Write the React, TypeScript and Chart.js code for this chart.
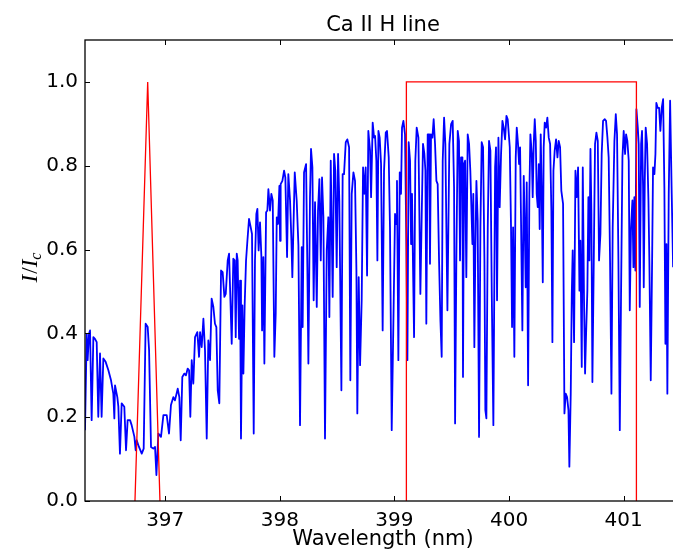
import React, { useEffect, useRef } from "react";
import { Chart, registerables } from "chart.js";

Chart.register(...registerables);

const titleText = "Ca II H line";
const xLabelText = "Wavelength (nm)";

const xTicks = [397, 398, 399, 400, 401];
const xTickLabels = ["397", "398", "399", "400", "401"];
const yTicks = [0, 0.2, 0.4, 0.6, 0.8, 1.0];
const yTickLabels = ["0.0", "0.2", "0.4", "0.6", "0.8", "1.0"];

const xMin = 396.3;
const xMax = 401.5;
const yMin = 0;
const yMax = 1.1;

// filter transmission (red)
const filterTriangleX = [396.736, 396.847, 396.954];
const filterTriangleY = [0, 1.0, 0];
const filterBoxX = [399.104, 399.104, 401.111, 401.111];
const filterBoxY = [0, 1.0, 1.0, 0];

// spectrum (blue)
const spectrumWavelength = [
  396.300,396.315,396.323,396.335,396.344,396.358,396.373,396.387,396.402,396.416,
  396.431,396.445,396.460,396.480,396.504,396.527,396.547,396.556,396.562,396.582,
  396.591,396.605,396.620,396.643,396.658,396.672,396.693,396.707,396.731,396.742,
  396.751,396.771,396.795,396.812,396.829,396.847,396.859,396.876,396.896,396.911,
  396.923,396.940,396.963,396.984,397.013,397.033,397.050,397.071,397.085,397.109,
  397.123,397.135,397.149,397.167,397.181,397.196,397.208,397.219,397.231,397.245,
  397.260,397.280,397.295,397.304,397.318,397.333,397.347,397.362,397.376,397.391,
  397.405,397.420,397.434,397.446,397.458,397.472,397.487,397.501,397.516,397.528,
  397.545,397.557,
  397.565,397.580,397.594,397.606,397.615,397.624,397.632,397.644,397.653,397.661,
  397.673,397.682,397.693,397.705,397.717,397.731,397.746,397.757,397.772,397.783,
  397.795,397.804,397.815,397.827,397.839,397.845,397.856,397.865,397.880,397.891,
  397.900,397.914,397.926,397.938,397.952,397.964,397.973,397.984,397.996,398.002,
  398.007,398.022,398.037,398.048,398.063,398.074,398.089,398.101,398.109,398.118,
  398.130,398.147,398.162,398.176,398.191,398.199,398.211,398.229,398.240,398.249,
  398.263,398.272,398.284,398.295,398.307,398.322,398.333,398.345,398.357,398.368,
  398.380,398.394,398.409,398.423,398.432,398.444,398.461,398.473,398.484,398.496,
  398.508,398.519,398.537,398.548,398.560,398.575,398.589,398.604,398.615,398.627,
  398.642,398.656,398.668,398.676,398.688,398.700,398.714,398.726,398.738,398.749,
  398.761,398.772,398.787,398.796,398.810,398.822,
  398.831,398.842,398.851,398.860,398.871,398.883,398.897,398.909,398.924,398.935,
  398.950,398.961,398.976,398.990,399.005,399.014,399.022,399.034,399.046,399.057,
  399.066,399.078,399.092,399.104,399.113,399.124,399.136,399.145,399.153,399.162,
  399.171,399.182,399.194,399.209,399.217,399.226,399.238,399.249,399.261,399.270,
  399.278,399.290,399.302,399.310,399.319,399.331,399.342,399.354,399.366,399.377,
  399.389,399.401,399.412,399.421,399.433,399.444,399.453,399.462,399.470,399.479,
  399.494,399.508,399.520,399.529,399.540,399.552,399.563,399.572,399.581,399.593,
  399.598,399.607,399.616,399.627,399.639,399.651,399.662,399.671,399.680,399.688,
  399.697,399.706,399.715,399.726,399.738,399.750,399.761,399.773,399.785,399.793,
  399.802,399.814,399.825,399.837,399.849,399.863,399.878,399.886,399.895,399.907,
  399.918,399.930,399.942,399.953,399.965,399.977,399.988,400.006,400.017,400.026,
  400.035,400.046,400.058,400.067,400.078,400.087,
  400.096,400.105,400.116,400.128,400.137,400.145,400.154,400.166,400.177,400.186,
  400.198,400.206,400.215,400.224,400.233,400.241,400.250,400.259,400.267,400.276,
  400.285,400.294,400.302,400.311,400.323,400.334,400.346,400.358,400.369,400.378,
  400.387,400.398,400.410,400.422,400.433,400.445,400.456,400.471,400.483,400.494,
  400.506,400.518,400.526,400.538,400.547,400.555,400.567,400.579,400.590,400.602,
  400.614,400.622,400.634,400.643,400.654,400.663,400.672,400.683,400.692,400.701,
  400.710,400.718,400.727,400.739,400.750,400.762,400.774,400.785,400.797,400.808,
  400.820,400.835,400.846,400.858,400.869,400.881,400.893,400.904,400.919,400.931,
  400.942,400.954,400.966,400.977,400.989,401.000,401.012,401.021,401.032,401.044,
  401.053,401.064,401.076,401.085,401.093,401.102,401.111,401.123,401.131,401.140,
  401.152,401.160,401.169,401.175,401.184,401.192,401.204,401.216,401.224,401.236,
  401.248,401.256,401.268,401.277,401.285,401.297,401.309,401.320,401.332,401.344,
  401.355,401.364,401.373,401.381,401.393,401.405,401.419,401.431,
];

const spectrumIntensity = [
  .169,.399,.336,.399,.407,.193,.391,.387,.379,.201,
  .352,.201,.340,.332,.312,.288,.256,.197,.276,.248,
  .225,.113,.233,.225,.121,.193,.193,.181,.153,.121,
  .145,.129,.113,.125,.423,.415,.360,.129,.125,.129,
  .062,.161,.153,.205,.205,.161,.229,.248,.240,.268,
  .248,.145,.296,.304,.300,.316,.312,.201,.336,.280,
  .391,.403,.344,.403,.367,.435,.360,.149,.383,.336,
  .483,.463,.423,.415,.264,.233,.550,.546,.487,.494,
  .574,.590,
  .590,.375,.578,.574,.391,.590,.574,.387,.526,.149,
  .467,.304,.467,.574,.621,.673,.653,.637,.161,.574,
  .685,.697,.598,.665,.582,.407,.582,.328,.689,.693,
  .744,.693,.733,.717,.344,.447,.677,.661,.752,.621,
  .756,.764,.788,.772,.582,.780,.717,.621,.534,.645,
  .784,.717,.610,.181,.606,.415,.784,.804,.558,.328,
  .725,.840,.796,.479,.713,.463,.693,.768,.574,.772,
  .677,.149,.598,.677,.439,.812,.487,.828,.788,.558,
  .828,.717,.264,.780,.780,.856,.863,.844,.288,.733,
  .784,.764,.550,.209,.534,.324,.479,.796,.733,.796,
  .538,.883,.836,.725,.903,.867,
  .871,.812,.574,.883,.867,.804,.407,.788,.879,.883,
  .820,.653,.169,.415,.685,.661,.764,.336,.784,.733,
  .891,.907,.875,.606,.336,.856,.812,.613,.733,.558,
  .391,.812,.891,.867,.693,.494,.685,.852,.828,.788,
  .423,.875,.875,.566,.875,.867,.911,.852,.764,.756,
  .574,.431,.344,.812,.915,.852,.649,.455,.645,.852,
  .899,.907,.748,.185,.574,.883,.859,.574,.820,.820,
  .296,.804,.812,.534,.875,.852,.788,.701,.613,.733,
  .367,.606,.764,.669,.153,.653,.856,.844,.574,.217,
  .197,.653,.859,.836,.494,.181,.796,.844,.479,.867,
  .701,.828,.907,.891,.863,.919,.911,.844,.653,.415,
  .653,.344,.820,.891,.852,.804,
  .844,.653,.407,.776,.653,.510,.760,.276,.733,.875,
  .828,.725,.852,.911,.859,.733,.701,.804,.649,.875,
  .733,.522,.844,.903,.891,.915,.867,.852,.693,.379,
  .788,.836,.863,.820,.859,.844,.740,.709,.209,.256,
  .248,.217,.082,.256,.494,.598,.379,.788,.725,.796,
  .502,.621,.320,.796,.479,.304,.399,.502,.725,.574,
  .840,.693,.284,.574,.852,.879,.859,.574,.637,.828,
  .907,.911,.907,.867,.820,.574,.256,.653,.859,.923,
  .875,.574,.169,.494,.820,.883,.828,.875,.859,.812,
  .455,.653,.717,.558,.725,.550,.935,.891,.852,.463,
  .852,.883,.748,.510,.764,.891,.852,.717,.574,.288,
  .574,.796,.780,.828,.950,.938,.938,.883,.938,.959,
  .748,.375,.613,.256,.733,.955,.733,.558,
];

const CANVAS_W = 700;
const CANVAS_H = 552;

function toPoints(xs: number[], ys: number[]) {
  const n = Math.min(xs.length, ys.length);
  const out: { x: number; y: number }[] = [];
  for (let i = 0; i < n; i++) out.push({ x: xs[i], y: ys[i] });
  return out;
}

const framePlugin = {
  id: "mplFrame",
  afterDraw(chart: any) {
    const { ctx, chartArea: a, scales } = chart;
    ctx.save();
    ctx.strokeStyle = "#000";
    ctx.lineWidth = 1.3;
    ctx.strokeRect(a.left, a.top, a.right - a.left, a.bottom - a.top);
    ctx.lineWidth = 1;
    const L = 5;
    const line = (x1: number, y1: number, x2: number, y2: number) => {
      ctx.beginPath();
      ctx.moveTo(x1, y1);
      ctx.lineTo(x2, y2);
      ctx.stroke();
    };
    xTicks.forEach((v) => {
      const x = Math.round(scales.x.getPixelForValue(v)) + 0.5;
      line(x, a.bottom, x, a.bottom - L);
      line(x, a.top, x, a.top + L);
    });
    yTicks.forEach((v) => {
      const y = Math.round(scales.y.getPixelForValue(v)) + 0.5;
      line(a.left, y, a.left + L, y);
      line(a.right, y, a.right - L, y);
    });

    ctx.fillStyle = "#000";
    ctx.font = '21px "DejaVu Sans"';
    ctx.textAlign = "center";
    ctx.textBaseline = "alphabetic";
    const cx = (a.left + a.right) / 2;
    ctx.fillText(titleText, cx, 31);
    ctx.fillText(xLabelText, cx, 545);

    // y label: I/I_c
    ctx.translate(30, 268);
    ctx.rotate(-Math.PI / 2);
    ctx.textAlign = "left";
    const fItal = 'italic 23px "Liberation Serif"';
    const fUp = '23px "Liberation Serif"';
    const fSub = 'italic 16px "Liberation Serif"';
    const parts: [string, string, number][] = [
      ["I", fItal, 0],
      ["/", fUp, 0],
      ["I", fItal, 0],
      ["c", fSub, 4],
    ];
    let total = 0;
    const widths = parts.map(([t, f]) => {
      ctx.font = f;
      const w = ctx.measureText(t).width;
      total += w;
      return w;
    });
    let x = -total / 2;
    parts.forEach(([t, f, dy], i) => {
      ctx.font = f;
      ctx.fillText(t, x, 7 + dy);
      x += widths[i] + (i === 0 ? 1 : 0);
    });
    ctx.restore();
  },
};

export default function App() {
  const ref = useRef<HTMLCanvasElement | null>(null);
  useEffect(() => {
    if (!ref.current) return;
    const chart = new Chart(ref.current, {
      type: "line",
      data: {
        datasets: [
          {
            data: toPoints(filterTriangleX, filterTriangleY),
            borderColor: "#ff0000",
            borderWidth: 1.3,
            pointRadius: 0,
            tension: 0,
            fill: false,
          },
          {
            data: toPoints(filterBoxX, filterBoxY),
            borderColor: "#ff0000",
            borderWidth: 1.3,
            pointRadius: 0,
            tension: 0,
            fill: false,
          },
          {
            data: toPoints(spectrumWavelength, spectrumIntensity),
            borderColor: "#0000ff",
            borderWidth: 1.8,
            pointRadius: 0,
            tension: 0,
            fill: false,
            borderJoinStyle: "round",
          },
        ],
      },
      options: {
        animation: false,
        responsive: false,
        maintainAspectRatio: false,
        devicePixelRatio: 1,
        layout: { padding: { left: 0, right: CANVAS_W - 681, top: 40, bottom: 0 } },
        plugins: {
          legend: { display: false },
          tooltip: { enabled: false },
          title: { display: false },
        },
        scales: {
          x: {
            type: "linear",
            min: xMin,
            max: xMax,
            grid: { display: false, drawTicks: false },
            border: { display: false },
            afterBuildTicks: (axis: any) => {
              axis.ticks = xTicks.map((v) => ({ value: v }));
            },
            afterFit: (axis: any) => {
              axis.height = 51;
            },
            ticks: {
              autoSkip: false,
              maxRotation: 0,
              padding: 8,
              color: "#000",
              font: { family: "DejaVu Sans", size: 20 },
              callback: (_v: any, i: number) => xTickLabels[i],
            },
          },
          y: {
            type: "linear",
            min: yMin,
            max: yMax,
            grid: { display: false, drawTicks: false },
            border: { display: false },
            afterBuildTicks: (axis: any) => {
              axis.ticks = yTicks.map((v) => ({ value: v }));
            },
            afterFit: (axis: any) => {
              axis.width = 85;
            },
            ticks: {
              autoSkip: false,
              padding: 7,
              color: "#000",
              font: { family: "DejaVu Sans", size: 20 },
              callback: (_v: any, i: number) => yTickLabels[i],
            },
          },
        },
      },
      plugins: [framePlugin],
    } as any);
    return () => chart.destroy();
  }, []);
  return (
    <div
      style={{
        position: "fixed",
        left: 0,
        top: 0,
        width: CANVAS_W,
        height: CANVAS_H,
        background: "#fff",
      }}
    >
      <canvas ref={ref} width={CANVAS_W} height={CANVAS_H} style={{ display: "block" }} />
    </div>
  );
}
